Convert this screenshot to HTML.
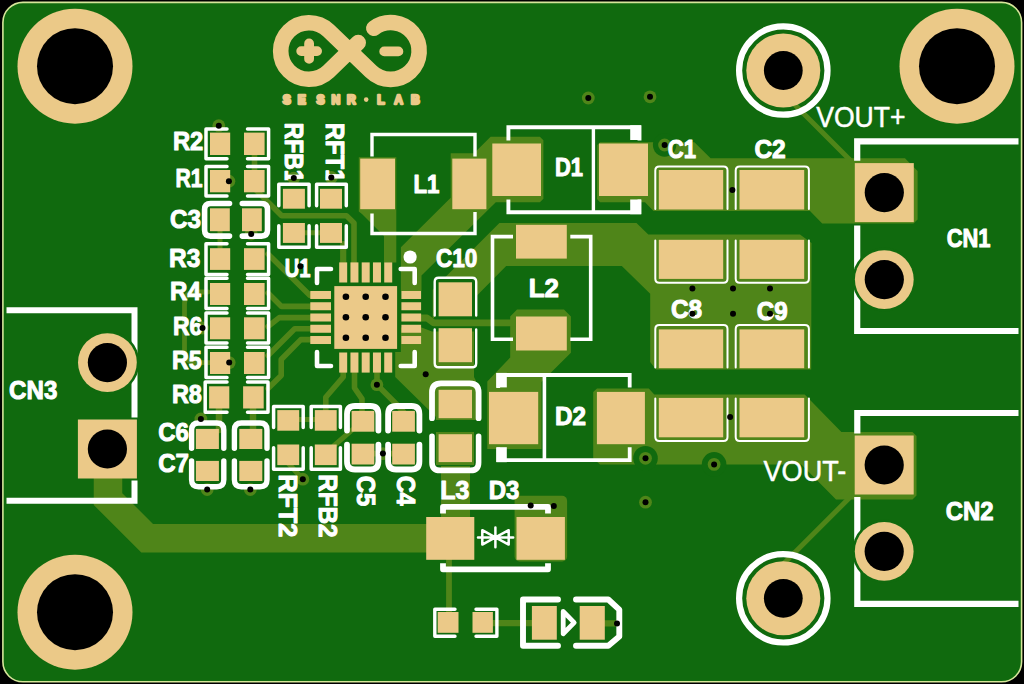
<!DOCTYPE html>
<html><head><meta charset="utf-8"><title>PCB</title>
<style>html,body{margin:0;padding:0;background:#000;overflow:hidden}svg{display:block;font-family:"Liberation Sans",sans-serif}</style>
</head><body>
<svg width="1024" height="684" viewBox="0 0 1024 684">
<rect x="0" y="0" width="1024" height="684" fill="#000"/>
<rect x="2.9" y="2.4" width="1018.7" height="679.4" rx="20" fill="#106a0e" stroke="#d6e69a" stroke-width="1.6"/>
<g id="copper">
<polygon points="450.7,153.3 474.0,153.3 490.6,136.7 539.9,136.7 543.4,140.2 543.4,198.8 539.9,202.3 495.8,202.3 421.5,275.5 421.5,291.0 400.9,291.0 400.9,247.3 450.7,197.8" fill="#4f8519"/>
<polygon points="358.8,157.2 396.3,157.2 396.3,262.5 384.0,262.5 384.0,236.0 362.0,214.0 358.8,211.5" fill="#4f8519"/>
<polygon points="597.3,145.0 600.0,142.2 694.4,142.2 710.6,158.3 905.0,158.3 917.6,171.0 917.6,219.5 913.5,223.6 822.2,223.6 810.0,211.0 653.5,211.0 645.0,202.3 600.0,202.3 597.0,199.0" fill="#4f8519"/>
<circle cx="664.60" cy="145.00" r="11.70" fill="#106a0e" />
<polygon points="499.4,222.9 636.5,222.9 648.3,234.4 800.0,234.4 811.5,243.0 811.2,369.5 656.0,369.5 650.2,362.0 650.2,293.8 621.8,266.0 506.2,266.0 477.0,295.5 477.0,318.0 432.7,318.0 432.7,289.8" fill="#4f8519"/>
<rect x="434.00" y="277.50" width="42.80" height="41.00" fill="#106a0e" />
<polygon points="510.2,316.4 517.0,309.6 564.0,309.6 570.9,316.4 570.9,352.7 541.5,382.1 541.5,449.0 487.3,449.0 487.3,381.5 510.2,357.5" fill="#4f8519"/>
<polygon points="593.2,392.0 597.0,388.4 648.8,388.4 654.3,394.6 804.7,394.6 841.4,431.9 912.5,431.9 916.5,436.0 916.5,495.5 912.5,499.5 836.0,499.5 801.4,464.6 600.0,464.6 593.2,458.5" fill="#4f8519"/>
<circle cx="645.50" cy="458.30" r="12.30" fill="#106a0e" />
<circle cx="714.10" cy="464.40" r="12.30" fill="#106a0e" />
<polygon points="400.9,327.5 421.6,327.5 432.0,331.5 474.0,331.5 474.0,377.0 476.0,381.0 476.0,420.0 436.0,420.0 436.0,417.0 395.2,376.9 395.2,352.0 400.9,352.0" fill="#4f8519"/>
<rect x="436.00" y="432.00" width="38.00" height="33.00" fill="#4f8519" />
<rect x="441.00" y="466.00" width="29.00" height="52.00" fill="#4f8519" />
<rect x="514.60" y="495.70" width="52.50" height="65.80" fill="#4f8519" rx="5" />
<path d="M108,470 V499.1 L147.2,538.3 H430" stroke="#4f8519" stroke-width="28.5" fill="none" stroke-linecap="butt" stroke-linejoin="miter" />
<path d="M449,558 V614" stroke="#4f8519" stroke-width="5.8" fill="none" stroke-linecap="round" stroke-linejoin="round" />
<path d="M491,623.2 H533" stroke="#4f8519" stroke-width="6.2" fill="none" stroke-linecap="round" stroke-linejoin="round" />
<path d="M603,623.3 H617" stroke="#4f8519" stroke-width="6.2" fill="none" stroke-linecap="round" stroke-linejoin="round" />
<path d="M783.3,70.5 V93.2 L856,165.9" stroke="#4f8519" stroke-width="5.0" fill="none" stroke-linecap="round" stroke-linejoin="round" />
<path d="M783.3,598.3 V564 L857,490.3" stroke="#4f8519" stroke-width="5.0" fill="none" stroke-linecap="round" stroke-linejoin="round" />
<path d="M419,318 H427 L433.5,322.8 H520" stroke="#4f8519" stroke-width="6.8" fill="none" stroke-linecap="round" stroke-linejoin="round" />
<path d="M256,190.1 L281.7,215.8 H346.5 L354,223 V264" stroke="#4f8519" stroke-width="5.6" fill="none" stroke-linecap="round" stroke-linejoin="round" />
<path d="M343.2,244 V264" stroke="#4f8519" stroke-width="6.2" fill="none" stroke-linecap="round" stroke-linejoin="round" />
<path d="M302,232.8 H323" stroke="#4f8519" stroke-width="5.0" fill="none" stroke-linecap="round" stroke-linejoin="round" />
<path d="M268,254 L310,295.5 H314" stroke="#4f8519" stroke-width="5.6" fill="none" stroke-linecap="round" stroke-linejoin="round" />
<path d="M268,293 L281.5,306.4 H314" stroke="#4f8519" stroke-width="5.6" fill="none" stroke-linecap="round" stroke-linejoin="round" />
<path d="M268,326.5 L279.3,317.6 H314" stroke="#4f8519" stroke-width="5.6" fill="none" stroke-linecap="round" stroke-linejoin="round" />
<path d="M314,328.8 H294.7 L268,355.5" stroke="#4f8519" stroke-width="5.6" fill="none" stroke-linecap="round" stroke-linejoin="round" />
<path d="M314,339.6 H300.8 L281.2,359.5 V375.5 L268,388.5" stroke="#4f8519" stroke-width="5.6" fill="none" stroke-linecap="round" stroke-linejoin="round" />
<path d="M343.2,370 V377 L325.8,397.3 V412" stroke="#4f8519" stroke-width="5.6" fill="none" stroke-linecap="round" stroke-linejoin="round" />
<path d="M354.5,370 V388 L362,398.8 V412" stroke="#4f8519" stroke-width="5.6" fill="none" stroke-linecap="round" stroke-linejoin="round" />
<path d="M377,370 V384.7 L395.8,403.5 L403.5,412" stroke="#4f8519" stroke-width="5.6" fill="none" stroke-linecap="round" stroke-linejoin="round" />
<path d="M208,292 H196 Q184.5,292 184.5,304 V351 Q184.5,362.6 196,362.6 H210" stroke="#4f8519" stroke-width="4.8" fill="none" stroke-linecap="round" stroke-linejoin="round" />
<path d="M219,408 V430" stroke="#4f8519" stroke-width="6.5" fill="none" stroke-linecap="round" stroke-linejoin="round" />
<path d="M253,408 V430" stroke="#4f8519" stroke-width="6.5" fill="none" stroke-linecap="round" stroke-linejoin="round" />
<path d="M254.5,154 V171" stroke="#4f8519" stroke-width="5.6" fill="none" stroke-linecap="round" stroke-linejoin="round" />
<path d="M220,231 V249" stroke="#4f8519" stroke-width="5.0" fill="none" stroke-linecap="round" stroke-linejoin="round" />
<path d="M297,419.5 H317" stroke="#4f8519" stroke-width="5.0" fill="none" stroke-linecap="round" stroke-linejoin="round" />
<path d="M333.6,446 L352.5,429.6" stroke="#4f8519" stroke-width="5.0" fill="none" stroke-linecap="round" stroke-linejoin="round" />
<path d="M288,463 L302.8,479.2" stroke="#4f8519" stroke-width="5.0" fill="none" stroke-linecap="round" stroke-linejoin="round" />
<path d="M372,453.6 H394" stroke="#4f8519" stroke-width="5.6" fill="none" stroke-linecap="round" stroke-linejoin="round" />
<circle cx="588.30" cy="98.00" r="6.40" fill="#4f8519" />
<circle cx="650.00" cy="96.80" r="6.40" fill="#4f8519" />
<circle cx="664.60" cy="145.00" r="6.40" fill="#4f8519" />
<circle cx="218.80" cy="125.70" r="6.40" fill="#4f8519" />
<circle cx="228.90" cy="181.20" r="6.40" fill="#4f8519" />
<circle cx="251.20" cy="234.00" r="6.40" fill="#4f8519" />
<circle cx="293.80" cy="178.10" r="6.40" fill="#4f8519" />
<circle cx="331.30" cy="177.50" r="6.40" fill="#4f8519" />
<circle cx="202.50" cy="328.00" r="6.40" fill="#4f8519" />
<circle cx="229.20" cy="362.60" r="6.40" fill="#4f8519" />
<circle cx="200.90" cy="419.00" r="6.40" fill="#4f8519" />
<circle cx="207.20" cy="489.50" r="6.40" fill="#4f8519" />
<circle cx="250.30" cy="489.50" r="6.40" fill="#4f8519" />
<circle cx="302.80" cy="479.20" r="6.40" fill="#4f8519" />
<circle cx="382.90" cy="453.60" r="6.40" fill="#4f8519" />
<circle cx="376.90" cy="384.70" r="6.40" fill="#4f8519" />
<circle cx="645.50" cy="458.30" r="6.40" fill="#4f8519" />
<circle cx="714.10" cy="464.40" r="6.40" fill="#4f8519" />
<circle cx="645.50" cy="502.20" r="6.40" fill="#4f8519" />
</g>
<g id="pads">
<circle cx="75.00" cy="66.20" r="57.50" fill="#ebc988" />
<circle cx="75.00" cy="66.20" r="38.00" fill="#000" />
<circle cx="957.00" cy="66.20" r="57.50" fill="#ebc988" />
<circle cx="957.00" cy="66.20" r="38.00" fill="#000" />
<circle cx="75.00" cy="612.20" r="57.50" fill="#ebc988" />
<circle cx="75.00" cy="612.20" r="38.00" fill="#000" />
<circle cx="783.30" cy="70.50" r="37.00" fill="#ebc988" />
<circle cx="783.30" cy="70.50" r="19.40" fill="#000" />
<circle cx="783.30" cy="598.30" r="37.00" fill="#ebc988" />
<circle cx="783.30" cy="598.30" r="19.40" fill="#000" />
<rect x="854.80" y="163.10" width="59.00" height="59.00" fill="#ebc988" />
<circle cx="884.30" cy="192.60" r="19.60" fill="#000" />
<circle cx="884.30" cy="279.60" r="29.40" fill="#ebc988" />
<circle cx="884.30" cy="279.60" r="19.50" fill="#000" />
<rect x="854.70" y="435.50" width="59.00" height="59.00" fill="#ebc988" />
<circle cx="884.20" cy="465.00" r="19.60" fill="#000" />
<circle cx="884.20" cy="551.40" r="29.40" fill="#ebc988" />
<circle cx="884.20" cy="551.40" r="19.50" fill="#000" />
<rect x="77.90" y="419.50" width="59.00" height="59.00" fill="#ebc988" />
<circle cx="107.40" cy="449.00" r="19.60" fill="#000" />
<circle cx="107.40" cy="362.60" r="29.40" fill="#ebc988" />
<circle cx="107.40" cy="362.60" r="19.50" fill="#000" />
<rect x="210.00" y="132.60" width="20.20" height="22.40" fill="#ebc988" />
<rect x="244.00" y="132.60" width="20.60" height="22.40" fill="#ebc988" />
<rect x="210.00" y="170.00" width="20.20" height="22.30" fill="#ebc988" />
<rect x="244.00" y="170.00" width="20.60" height="22.30" fill="#ebc988" />
<rect x="210.00" y="208.30" width="19.80" height="22.90" fill="#ebc988" />
<rect x="242.00" y="208.30" width="19.80" height="22.90" fill="#ebc988" />
<rect x="210.00" y="248.20" width="20.20" height="21.70" fill="#ebc988" />
<rect x="244.00" y="248.20" width="20.60" height="21.70" fill="#ebc988" />
<rect x="210.00" y="283.00" width="20.20" height="22.00" fill="#ebc988" />
<rect x="244.00" y="283.00" width="20.60" height="22.00" fill="#ebc988" />
<rect x="210.00" y="317.30" width="20.20" height="22.00" fill="#ebc988" />
<rect x="244.00" y="317.30" width="20.60" height="22.00" fill="#ebc988" />
<rect x="210.00" y="352.00" width="20.20" height="22.00" fill="#ebc988" />
<rect x="244.00" y="352.00" width="20.60" height="22.00" fill="#ebc988" />
<rect x="209.10" y="386.30" width="20.20" height="22.20" fill="#ebc988" />
<rect x="243.10" y="386.30" width="20.60" height="22.20" fill="#ebc988" />
<rect x="195.90" y="428.90" width="23.00" height="20.10" fill="#ebc988" />
<rect x="239.30" y="428.90" width="23.00" height="20.10" fill="#ebc988" />
<rect x="195.90" y="460.90" width="23.00" height="20.10" fill="#ebc988" />
<rect x="239.30" y="460.90" width="23.00" height="20.10" fill="#ebc988" />
<rect x="282.90" y="188.80" width="22.00" height="19.90" fill="#ebc988" />
<rect x="282.90" y="223.00" width="22.00" height="19.90" fill="#ebc988" />
<rect x="320.00" y="188.80" width="22.00" height="19.90" fill="#ebc988" />
<rect x="320.00" y="223.00" width="22.00" height="19.90" fill="#ebc988" />
<rect x="277.30" y="410.10" width="21.90" height="20.60" fill="#ebc988" />
<rect x="277.30" y="444.50" width="21.90" height="20.60" fill="#ebc988" />
<rect x="314.80" y="410.10" width="21.90" height="20.60" fill="#ebc988" />
<rect x="314.80" y="444.50" width="21.90" height="20.60" fill="#ebc988" />
<rect x="351.60" y="410.90" width="22.70" height="20.80" fill="#ebc988" />
<rect x="351.60" y="443.70" width="22.70" height="20.80" fill="#ebc988" />
<rect x="392.20" y="410.90" width="22.70" height="20.80" fill="#ebc988" />
<rect x="392.20" y="443.70" width="22.70" height="20.80" fill="#ebc988" />
<rect x="360.20" y="158.60" width="34.80" height="50.60" fill="#ebc988" />
<rect x="452.30" y="158.60" width="34.10" height="50.60" fill="#ebc988" />
<rect x="492.30" y="143.50" width="48.70" height="52.50" fill="#ebc988" />
<rect x="599.00" y="143.50" width="49.00" height="52.50" fill="#ebc988" />
<rect x="516.00" y="224.80" width="50.80" height="33.80" fill="#ebc988" />
<rect x="516.00" y="316.50" width="50.80" height="34.00" fill="#ebc988" />
<rect x="489.00" y="391.90" width="49.20" height="52.30" fill="#ebc988" />
<rect x="596.90" y="391.90" width="48.00" height="52.30" fill="#ebc988" />
<rect x="438.60" y="282.30" width="33.40" height="34.00" fill="#ebc988" />
<rect x="438.60" y="328.20" width="33.40" height="34.00" fill="#ebc988" />
<rect x="438.60" y="389.80" width="33.40" height="28.40" fill="#ebc988" />
<rect x="438.60" y="434.20" width="33.40" height="27.90" fill="#ebc988" />
<rect x="658.80" y="170.00" width="64.40" height="39.50" fill="#ebc988" />
<rect x="658.80" y="239.80" width="64.40" height="39.10" fill="#ebc988" />
<rect x="658.80" y="329.40" width="64.40" height="38.80" fill="#ebc988" />
<rect x="658.80" y="397.90" width="64.40" height="39.40" fill="#ebc988" />
<rect x="739.50" y="170.00" width="64.70" height="39.50" fill="#ebc988" />
<rect x="739.50" y="239.80" width="64.70" height="39.10" fill="#ebc988" />
<rect x="739.50" y="329.40" width="64.70" height="38.80" fill="#ebc988" />
<rect x="739.50" y="397.90" width="64.70" height="39.40" fill="#ebc988" />
<rect x="426.20" y="517.00" width="48.10" height="42.80" fill="#ebc988" />
<rect x="516.50" y="517.00" width="48.40" height="42.80" fill="#ebc988" />
<rect x="437.70" y="612.00" width="20.80" height="20.80" fill="#ebc988" />
<rect x="472.50" y="612.00" width="20.40" height="20.80" fill="#ebc988" />
<rect x="531.90" y="606.00" width="24.90" height="33.70" fill="#ebc988" />
<rect x="579.70" y="606.00" width="25.10" height="33.70" fill="#ebc988" />
<rect x="334.30" y="286.10" width="62.80" height="62.80" fill="#ebc988" />
<rect x="339.18" y="262.40" width="8.00" height="20.10" fill="#ebc988" />
<rect x="339.18" y="352.50" width="8.00" height="20.10" fill="#ebc988" />
<rect x="310.30" y="290.98" width="20.70" height="8.00" fill="#ebc988" />
<rect x="401.40" y="290.98" width="19.70" height="8.00" fill="#ebc988" />
<rect x="350.44" y="262.40" width="8.00" height="20.10" fill="#ebc988" />
<rect x="350.44" y="352.50" width="8.00" height="20.10" fill="#ebc988" />
<rect x="310.30" y="302.24" width="20.70" height="8.00" fill="#ebc988" />
<rect x="401.40" y="302.24" width="19.70" height="8.00" fill="#ebc988" />
<rect x="361.70" y="262.40" width="8.00" height="20.10" fill="#ebc988" />
<rect x="361.70" y="352.50" width="8.00" height="20.10" fill="#ebc988" />
<rect x="310.30" y="313.50" width="20.70" height="8.00" fill="#ebc988" />
<rect x="401.40" y="313.50" width="19.70" height="8.00" fill="#ebc988" />
<rect x="372.96" y="262.40" width="8.00" height="20.10" fill="#ebc988" />
<rect x="372.96" y="352.50" width="8.00" height="20.10" fill="#ebc988" />
<rect x="310.30" y="324.76" width="20.70" height="8.00" fill="#ebc988" />
<rect x="401.40" y="324.76" width="19.70" height="8.00" fill="#ebc988" />
<rect x="384.22" y="262.40" width="8.00" height="20.10" fill="#ebc988" />
<rect x="384.22" y="352.50" width="8.00" height="20.10" fill="#ebc988" />
<rect x="310.30" y="336.02" width="20.70" height="8.00" fill="#ebc988" />
<rect x="401.40" y="336.02" width="19.70" height="8.00" fill="#ebc988" />
<circle cx="345.90" cy="296.70" r="3.30" fill="#000" />
<circle cx="345.90" cy="317.20" r="3.30" fill="#000" />
<circle cx="345.90" cy="337.70" r="3.30" fill="#000" />
<circle cx="365.70" cy="296.70" r="3.30" fill="#000" />
<circle cx="365.70" cy="317.20" r="3.30" fill="#000" />
<circle cx="365.70" cy="337.70" r="3.30" fill="#000" />
<circle cx="385.50" cy="296.70" r="3.30" fill="#000" />
<circle cx="385.50" cy="317.20" r="3.30" fill="#000" />
<circle cx="385.50" cy="337.70" r="3.30" fill="#000" />
<path d="M373.8,28.2 A28.4,28.4 0 1 1 371.0,71.4 L328.6,30.6 A28.3,28.3 0 1 0 328.6,71.4 L358.2,42.6" fill="none" stroke="#ebc988" stroke-width="15.6" stroke-linecap="round" stroke-linejoin="round"/>
<path d="M301.2,51.1 H317.1 M309.1,43.4 V58.9 M384.2,51.4 H398.4" fill="none" stroke="#ebc988" stroke-width="9.8" stroke-linecap="round"/>
<circle cx="366.20" cy="99.60" r="2.30" fill="#ebc988" />
</g>
<g id="silk">
<circle cx="783.3" cy="70.5" r="44.2" fill="none" stroke="#ffffff" stroke-width="6.2"/>
<circle cx="783.3" cy="598.3" r="44.2" fill="none" stroke="#ffffff" stroke-width="6.2"/>
<path d="M1018.5,141.3 H857.2 V160.8" stroke="#ffffff" stroke-width="6.2" fill="none" stroke-linecap="butt" stroke-linejoin="miter" />
<path d="M857.2,225.5 V331.0 H1018.5" stroke="#ffffff" stroke-width="6.2" fill="none" stroke-linecap="butt" stroke-linejoin="miter" />
<path d="M1018.5,413.0 H857.3 V433.5" stroke="#ffffff" stroke-width="6.2" fill="none" stroke-linecap="butt" stroke-linejoin="miter" />
<path d="M857.3,497 V603.8 H1018.5" stroke="#ffffff" stroke-width="6.2" fill="none" stroke-linecap="butt" stroke-linejoin="miter" />
<path d="M6.5,310.3 H134.5 V417.5" stroke="#ffffff" stroke-width="6" fill="none" stroke-linecap="butt" stroke-linejoin="miter" />
<path d="M134.5,480.5 V500.7 H6.5" stroke="#ffffff" stroke-width="6" fill="none" stroke-linecap="butt" stroke-linejoin="miter" />
<circle cx="884.30" cy="279.60" r="32.00" fill="#106a0e" />
<circle cx="884.30" cy="279.60" r="29.40" fill="#ebc988" />
<circle cx="884.30" cy="279.60" r="19.60" fill="#000" />
<circle cx="884.20" cy="551.40" r="32.00" fill="#106a0e" />
<circle cx="884.20" cy="551.40" r="29.40" fill="#ebc988" />
<circle cx="884.20" cy="551.40" r="19.60" fill="#000" />
<circle cx="107.40" cy="362.60" r="32.00" fill="#106a0e" />
<circle cx="107.40" cy="362.60" r="29.40" fill="#ebc988" />
<circle cx="107.40" cy="362.60" r="19.60" fill="#000" />
<path d="M227.0,129.0 H206.0 V158.8 H227.0" stroke="#ffffff" stroke-width="3.5" fill="none" stroke-linecap="round" stroke-linejoin="round" />
<path d="M247.5,129.0 H268.6 V158.8 H247.5" stroke="#ffffff" stroke-width="3.5" fill="none" stroke-linecap="round" stroke-linejoin="round" />
<path d="M227.0,166.5 H206.0 V196.0 H227.0" stroke="#ffffff" stroke-width="3.5" fill="none" stroke-linecap="round" stroke-linejoin="round" />
<path d="M247.5,166.5 H268.6 V196.0 H247.5" stroke="#ffffff" stroke-width="3.5" fill="none" stroke-linecap="round" stroke-linejoin="round" />
<path d="M227.0,243.8 H206.0 V274.6 H227.0" stroke="#ffffff" stroke-width="3.5" fill="none" stroke-linecap="round" stroke-linejoin="round" />
<path d="M247.5,243.8 H268.6 V274.6 H247.5" stroke="#ffffff" stroke-width="3.5" fill="none" stroke-linecap="round" stroke-linejoin="round" />
<path d="M227.0,278.3 H206.0 V308.5 H227.0" stroke="#ffffff" stroke-width="3.5" fill="none" stroke-linecap="round" stroke-linejoin="round" />
<path d="M247.5,278.3 H268.6 V308.5 H247.5" stroke="#ffffff" stroke-width="3.5" fill="none" stroke-linecap="round" stroke-linejoin="round" />
<path d="M227.0,312.9 H206.0 V343.0 H227.0" stroke="#ffffff" stroke-width="3.5" fill="none" stroke-linecap="round" stroke-linejoin="round" />
<path d="M247.5,312.9 H268.6 V343.0 H247.5" stroke="#ffffff" stroke-width="3.5" fill="none" stroke-linecap="round" stroke-linejoin="round" />
<path d="M227.0,347.3 H206.0 V377.5 H227.0" stroke="#ffffff" stroke-width="3.5" fill="none" stroke-linecap="round" stroke-linejoin="round" />
<path d="M247.5,347.3 H268.6 V377.5 H247.5" stroke="#ffffff" stroke-width="3.5" fill="none" stroke-linecap="round" stroke-linejoin="round" />
<path d="M227.0,382.1 H205.2 V412.3 H227.0" stroke="#ffffff" stroke-width="3.5" fill="none" stroke-linecap="round" stroke-linejoin="round" />
<path d="M247.5,382.1 H268.0 V412.3 H247.5" stroke="#ffffff" stroke-width="3.5" fill="none" stroke-linecap="round" stroke-linejoin="round" />
<path d="M229.5,203.5 H210.6 Q204.6,203.5 204.6,209.5 V230.1 Q204.6,236.1 210.6,236.1 H229.5" stroke="#ffffff" stroke-width="5.6" fill="none" stroke-linecap="round" stroke-linejoin="round" />
<path d="M242.3,203.5 H261.5 Q267.5,203.5 267.5,209.5 V230.1 Q267.5,236.1 261.5,236.1 H242.3" stroke="#ffffff" stroke-width="5.6" fill="none" stroke-linecap="round" stroke-linejoin="round" />
<path d="M191.6,448.2 V430.0 Q191.6,423.0 198.6,423.0 H216.8 Q223.8,423.0 223.8,430.0 V448.2" stroke="#ffffff" stroke-width="5.4" fill="none" stroke-linecap="round" stroke-linejoin="round" />
<path d="M191.6,461.0 V479.8 Q191.6,486.8 198.6,486.8 H216.8 Q223.8,486.8 223.8,479.8 V461.0" stroke="#ffffff" stroke-width="5.4" fill="none" stroke-linecap="round" stroke-linejoin="round" />
<path d="M234.4,448.2 V430.0 Q234.4,423.0 241.4,423.0 H260.0 Q267.0,423.0 267.0,430.0 V448.2" stroke="#ffffff" stroke-width="5.4" fill="none" stroke-linecap="round" stroke-linejoin="round" />
<path d="M234.4,461.0 V479.8 Q234.4,486.8 241.4,486.8 H260.0 Q267.0,486.8 267.0,479.8 V461.0" stroke="#ffffff" stroke-width="5.4" fill="none" stroke-linecap="round" stroke-linejoin="round" />
<path d="M278.8,205.7 V184.3 H309.1 V205.7" stroke="#ffffff" stroke-width="3.5" fill="none" stroke-linecap="round" stroke-linejoin="round" />
<path d="M278.8,225.8 V247.2 H309.1 V225.8" stroke="#ffffff" stroke-width="3.5" fill="none" stroke-linecap="round" stroke-linejoin="round" />
<path d="M316.6,205.7 V184.3 H346.3 V205.7" stroke="#ffffff" stroke-width="3.5" fill="none" stroke-linecap="round" stroke-linejoin="round" />
<path d="M316.6,225.8 V247.2 H346.3 V225.8" stroke="#ffffff" stroke-width="3.5" fill="none" stroke-linecap="round" stroke-linejoin="round" />
<path d="M273.6,427.5 V406.4 H303.2 V427.5" stroke="#ffffff" stroke-width="3.5" fill="none" stroke-linecap="round" stroke-linejoin="round" />
<path d="M273.6,447.8 V469.2 H303.2 V447.8" stroke="#ffffff" stroke-width="3.5" fill="none" stroke-linecap="round" stroke-linejoin="round" />
<path d="M311.2,427.5 V406.4 H340.4 V427.5" stroke="#ffffff" stroke-width="3.5" fill="none" stroke-linecap="round" stroke-linejoin="round" />
<path d="M311.2,447.8 V469.2 H340.4 V447.8" stroke="#ffffff" stroke-width="3.5" fill="none" stroke-linecap="round" stroke-linejoin="round" />
<path d="M347.0,430.6 V414.0 Q347.0,406.0 355.0,406.0 H370.4 Q378.4,406.0 378.4,414.0 V430.6" stroke="#ffffff" stroke-width="5.8" fill="none" stroke-linecap="round" stroke-linejoin="round" />
<path d="M347.0,444.6 V461.5 Q347.0,469.5 355.0,469.5 H370.4 Q378.4,469.5 378.4,461.5 V444.6" stroke="#ffffff" stroke-width="5.8" fill="none" stroke-linecap="round" stroke-linejoin="round" />
<path d="M388.1,430.6 V414.0 Q388.1,406.0 396.1,406.0 H411.4 Q419.4,406.0 419.4,414.0 V430.6" stroke="#ffffff" stroke-width="5.8" fill="none" stroke-linecap="round" stroke-linejoin="round" />
<path d="M388.1,444.6 V461.5 Q388.1,469.5 396.1,469.5 H411.4 Q419.4,469.5 419.4,461.5 V444.6" stroke="#ffffff" stroke-width="5.8" fill="none" stroke-linecap="round" stroke-linejoin="round" />
<path d="M317,283 V269 H331" stroke="#ffffff" stroke-width="4.6" fill="none" stroke-linecap="round" stroke-linejoin="round" />
<path d="M400.7,269 H414.7 V283" stroke="#ffffff" stroke-width="4.6" fill="none" stroke-linecap="round" stroke-linejoin="round" />
<path d="M317,352 V366 H331" stroke="#ffffff" stroke-width="4.6" fill="none" stroke-linecap="round" stroke-linejoin="round" />
<path d="M400.7,366 H414.7 V352" stroke="#ffffff" stroke-width="4.6" fill="none" stroke-linecap="round" stroke-linejoin="round" />
<circle cx="410.10" cy="257.00" r="6.60" fill="#ffffff" />
<path d="M372,156.5 V134.5 H475 V156.5" stroke="#ffffff" stroke-width="3.4" fill="none" stroke-linecap="butt" stroke-linejoin="miter" />
<path d="M372,213.6 V233.5 H475 V212" stroke="#ffffff" stroke-width="3.4" fill="none" stroke-linecap="butt" stroke-linejoin="miter" />
<path d="M508.4,140.5 V127.2 H639.5 V140.5" stroke="#ffffff" stroke-width="3.9" fill="none" stroke-linecap="butt" stroke-linejoin="miter" />
<path d="M508.4,199.5 V212.3 H639.5 V199.5" stroke="#ffffff" stroke-width="3.9" fill="none" stroke-linecap="butt" stroke-linejoin="miter" />
<path d="M593.4,127.2 V212.3" stroke="#ffffff" stroke-width="3.4" fill="none" stroke-linecap="butt" stroke-linejoin="miter" />
<rect x="630.20" y="125.30" width="10.80" height="14.70" fill="#ffffff" />
<rect x="630.20" y="199.50" width="10.80" height="14.70" fill="#ffffff" />
<path d="M513,236.6 H492.5 V339.2 H513" stroke="#ffffff" stroke-width="3.6" fill="none" stroke-linecap="butt" stroke-linejoin="miter" />
<path d="M570.3,236.6 H590.7 V339.2 H570.3" stroke="#ffffff" stroke-width="3.6" fill="none" stroke-linecap="butt" stroke-linejoin="miter" />
<path d="M498.2,388 V375 H629.7 V387.4" stroke="#ffffff" stroke-width="3.8" fill="none" stroke-linecap="butt" stroke-linejoin="miter" />
<path d="M498.2,447.5 V460.1 H629.7 V447.2" stroke="#ffffff" stroke-width="3.8" fill="none" stroke-linecap="butt" stroke-linejoin="miter" />
<path d="M544.4,375 V460.1" stroke="#ffffff" stroke-width="3.6" fill="none" stroke-linecap="butt" stroke-linejoin="miter" />
<rect x="496.40" y="372.90" width="10.40" height="14.50" fill="#ffffff" />
<rect x="496.40" y="447.20" width="10.40" height="15.00" fill="#ffffff" />
<path d="M434.7,315.5 V281.8 Q434.7,277.8 438.7,277.8 H472.2 Q476.2,277.8 476.2,281.8 V315.5" stroke="#ffffff" stroke-width="2.4" fill="none" stroke-linecap="round" stroke-linejoin="round" />
<path d="M434.7,329.5 V363.3 Q434.7,367.3 438.7,367.3 H472.2 Q476.2,367.3 476.2,363.3 V329.5" stroke="#ffffff" stroke-width="2.4" fill="none" stroke-linecap="round" stroke-linejoin="round" />
<path d="M432.0,418.2 V392.3 Q432.0,383.3 441.0,383.3 H469.6 Q478.6,383.3 478.6,392.3 V418.2" stroke="#ffffff" stroke-width="5.8" fill="none" stroke-linecap="round" stroke-linejoin="round" />
<path d="M432.0,436.2 V462.4 Q432.0,470.4 440.0,470.4 H470.6 Q478.6,470.4 478.6,462.4 V436.2" stroke="#ffffff" stroke-width="5.6" fill="none" stroke-linecap="round" stroke-linejoin="round" />
<path d="M655.3,209.0 V170.6 Q655.3,166.6 659.3,166.6 H723.5 Q727.5,166.6 727.5,170.6 V209.0" stroke="#ffffff" stroke-width="2.0" fill="none" stroke-linecap="round" stroke-linejoin="round" />
<path d="M655.3,240.5 V278.8 Q655.3,282.8 659.3,282.8 H723.5 Q727.5,282.8 727.5,278.8 V240.5" stroke="#ffffff" stroke-width="2.0" fill="none" stroke-linecap="round" stroke-linejoin="round" />
<path d="M655.3,367.5 V328.9 Q655.3,324.9 659.3,324.9 H723.5 Q727.5,324.9 727.5,328.9 V367.5" stroke="#ffffff" stroke-width="2.0" fill="none" stroke-linecap="round" stroke-linejoin="round" />
<path d="M655.3,398.5 V437.0 Q655.3,441.0 659.3,441.0 H723.5 Q727.5,441.0 727.5,437.0 V398.5" stroke="#ffffff" stroke-width="2.0" fill="none" stroke-linecap="round" stroke-linejoin="round" />
<path d="M735.7,209.0 V170.6 Q735.7,166.6 739.7,166.6 H804.9 Q808.9,166.6 808.9,170.6 V209.0" stroke="#ffffff" stroke-width="2.0" fill="none" stroke-linecap="round" stroke-linejoin="round" />
<path d="M735.7,240.5 V278.8 Q735.7,282.8 739.7,282.8 H804.9 Q808.9,282.8 808.9,278.8 V240.5" stroke="#ffffff" stroke-width="2.0" fill="none" stroke-linecap="round" stroke-linejoin="round" />
<path d="M735.7,367.5 V328.9 Q735.7,324.9 739.7,324.9 H804.9 Q808.9,324.9 808.9,328.9 V367.5" stroke="#ffffff" stroke-width="2.0" fill="none" stroke-linecap="round" stroke-linejoin="round" />
<path d="M735.7,398.5 V437.0 Q735.7,441.0 739.7,441.0 H804.9 Q808.9,441.0 808.9,437.0 V398.5" stroke="#ffffff" stroke-width="2.0" fill="none" stroke-linecap="round" stroke-linejoin="round" />
<path d="M443,513.5 V506.8 H548 V513.5" stroke="#ffffff" stroke-width="5.8" fill="none" stroke-linecap="butt" stroke-linejoin="round" />
<path d="M443,563.3 V569.3 H548 V563.3" stroke="#ffffff" stroke-width="5.8" fill="none" stroke-linecap="butt" stroke-linejoin="round" />
<path d="M478,537.4 H513.2 M495.4,527.6 V547.2 M482.3,530.2 V544.6 L495.4,537.4 Z M508.7,530.2 V544.6 L495.4,537.4 Z" stroke="#ffffff" stroke-width="2.5" fill="none" stroke-linecap="round" stroke-linejoin="round" />
<path d="M455,609.2 H434.8 V636.2 H455" stroke="#ffffff" stroke-width="3.4" fill="none" stroke-linecap="round" stroke-linejoin="round" />
<path d="M476,609.2 H496.9 V636.2 H476" stroke="#ffffff" stroke-width="3.4" fill="none" stroke-linecap="round" stroke-linejoin="round" />
<path d="M558,599.5 H523 V645.7 H558" stroke="#ffffff" stroke-width="5.9" fill="none" stroke-linecap="round" stroke-linejoin="round" />
<path d="M576,599.5 H608.3 L619.3,609.6 V636.4 L608.3,645.7 H576" stroke="#ffffff" stroke-width="5.9" fill="none" stroke-linecap="round" stroke-linejoin="round" />
<path d="M563.2,611.4 L574.2,622.6 L563.2,633.8 Z" stroke="#ffffff" stroke-width="4.8" fill="none" stroke-linecap="round" stroke-linejoin="round" />
<g font-family="'Liberation Sans',sans-serif" font-weight="bold" font-size="25.4" fill="#ffffff" stroke="#ffffff" stroke-width="1" stroke-linejoin="round">
<text x="172.9" y="150.08" textLength="30.3" lengthAdjust="spacingAndGlyphs">R2</text>
<text x="175.4" y="187.48" textLength="27" lengthAdjust="spacingAndGlyphs">R1</text>
<text x="170" y="227.78" textLength="30.9" lengthAdjust="spacingAndGlyphs">C3</text>
<text x="169.1" y="266.88" textLength="31.2" lengthAdjust="spacingAndGlyphs">R3</text>
<text x="170.1" y="300.48" textLength="30.7" lengthAdjust="spacingAndGlyphs">R4</text>
<text x="172.9" y="334.78" textLength="29.4" lengthAdjust="spacingAndGlyphs">R6</text>
<text x="171.9" y="369.48" textLength="29.7" lengthAdjust="spacingAndGlyphs">R5</text>
<text x="171.9" y="403.48" textLength="30" lengthAdjust="spacingAndGlyphs">R8</text>
<text x="158.2" y="440.88" textLength="30.6" lengthAdjust="spacingAndGlyphs">C6</text>
<text x="158.2" y="471.78" textLength="30.8" lengthAdjust="spacingAndGlyphs">C7</text>
<text x="284.7" y="276.88" textLength="25.8" lengthAdjust="spacingAndGlyphs">U1</text>
<text x="435.9" y="267.08" textLength="41.4" lengthAdjust="spacingAndGlyphs">C10</text>
<text x="413.5" y="193.38" textLength="26" lengthAdjust="spacingAndGlyphs">L1</text>
<text x="554.9" y="176.08" textLength="28" lengthAdjust="spacingAndGlyphs">D1</text>
<text x="528.8" y="297.28" textLength="30.1" lengthAdjust="spacingAndGlyphs">L2</text>
<text x="554.9" y="424.68" textLength="31" lengthAdjust="spacingAndGlyphs">D2</text>
<text x="667.8" y="158.48" textLength="28.2" lengthAdjust="spacingAndGlyphs">C1</text>
<text x="754.4" y="158.48" textLength="31.4" lengthAdjust="spacingAndGlyphs">C2</text>
<text x="670.9" y="317.58" textLength="31.2" lengthAdjust="spacingAndGlyphs">C8</text>
<text x="756.7" y="319.98" textLength="30.9" lengthAdjust="spacingAndGlyphs">C9</text>
<text x="946.7" y="247.48" textLength="43.8" lengthAdjust="spacingAndGlyphs">CN1</text>
<text x="945.7" y="519.68" textLength="47.8" lengthAdjust="spacingAndGlyphs">CN2</text>
<text x="9.1" y="399.28" textLength="48.2" lengthAdjust="spacingAndGlyphs">CN3</text>
<text x="440.2" y="499.48" textLength="29.1" lengthAdjust="spacingAndGlyphs">L3</text>
<text x="488.8" y="499.48" textLength="30.6" lengthAdjust="spacingAndGlyphs">D3</text>
</g>
<g font-family="'Liberation Sans',sans-serif" font-size="28.6" fill="#ffffff" stroke="#ffffff" stroke-width="0.5" stroke-linejoin="round">
<text x="816.2" y="126.68" textLength="89.3" lengthAdjust="spacingAndGlyphs">VOUT+</text>
<text x="763.6" y="480.88" textLength="82.6" lengthAdjust="spacingAndGlyphs">VOUT-</text>
</g>
<clipPath id="c1"><rect x="270" y="110" width="90" height="70.3"/></clipPath>
<g clip-path="url(#c1)" font-family="'Liberation Sans',sans-serif" font-weight="bold" font-size="25.4" fill="#ffffff" stroke="#ffffff" stroke-width="1" stroke-linejoin="round">
<text transform="translate(284.80,0) rotate(90)" x="122.64" y="0" textLength="59.9" lengthAdjust="spacingAndGlyphs">RFB1</text>
<text transform="translate(325.70,0) rotate(90)" x="122.64" y="0" textLength="59.9" lengthAdjust="spacingAndGlyphs">RFT1</text>
</g>
<g font-family="'Liberation Sans',sans-serif" font-weight="bold" font-size="25.4" fill="#ffffff" stroke="#ffffff" stroke-width="1" stroke-linejoin="round">
<text transform="translate(278.90,0) rotate(90)" x="474.14" y="0" textLength="63.3" lengthAdjust="spacingAndGlyphs">RFT2</text>
<text transform="translate(318.70,0) rotate(90)" x="474.14" y="0" textLength="63.3" lengthAdjust="spacingAndGlyphs">RFB2</text>
<text transform="translate(356.60,0) rotate(90)" x="475.67" y="0" textLength="30.5" lengthAdjust="spacingAndGlyphs">C5</text>
<text transform="translate(397.00,0) rotate(90)" x="475.67" y="0" textLength="30" lengthAdjust="spacingAndGlyphs">C4</text>
</g>
<g font-family="'Liberation Sans',sans-serif" font-weight="bold" font-size="12" fill="#ebc988" stroke="#ebc988" stroke-width="2.3" stroke-linejoin="round">
<text x="282.7 297.8 316.5 331.45 347.11" y="103.7">SESNR</text>
<text x="377.33 394.19 411.05" y="103.7">LAB</text>
</g>
</g>
<g id="vias">
<circle cx="588.30" cy="98.00" r="3.00" fill="#000" />
<circle cx="650.00" cy="96.80" r="3.00" fill="#000" />
<circle cx="664.60" cy="145.00" r="3.00" fill="#000" />
<circle cx="218.80" cy="125.70" r="3.00" fill="#000" />
<circle cx="228.90" cy="181.20" r="3.00" fill="#000" />
<circle cx="251.20" cy="234.00" r="3.00" fill="#000" />
<circle cx="293.80" cy="178.10" r="3.00" fill="#000" />
<circle cx="331.30" cy="177.50" r="3.00" fill="#000" />
<circle cx="202.50" cy="328.00" r="3.00" fill="#000" />
<circle cx="229.20" cy="362.60" r="3.00" fill="#000" />
<circle cx="200.90" cy="419.00" r="3.00" fill="#000" />
<circle cx="207.20" cy="489.50" r="3.00" fill="#000" />
<circle cx="250.30" cy="489.50" r="3.00" fill="#000" />
<circle cx="302.80" cy="479.20" r="3.00" fill="#000" />
<circle cx="382.90" cy="453.60" r="3.00" fill="#000" />
<circle cx="376.90" cy="384.70" r="3.00" fill="#000" />
<circle cx="645.50" cy="458.30" r="3.00" fill="#000" />
<circle cx="714.10" cy="464.40" r="3.00" fill="#000" />
<circle cx="645.50" cy="502.20" r="3.00" fill="#000" />
<circle cx="300.40" cy="266.30" r="3.00" fill="#000" />
<circle cx="425.70" cy="374.30" r="3.00" fill="#000" />
<circle cx="732.40" cy="189.90" r="3.00" fill="#000" />
<circle cx="692.40" cy="288.50" r="3.00" fill="#000" />
<circle cx="733.00" cy="288.50" r="3.00" fill="#000" />
<circle cx="770.00" cy="288.50" r="3.00" fill="#000" />
<circle cx="692.40" cy="313.70" r="3.00" fill="#000" />
<circle cx="733.00" cy="313.70" r="3.00" fill="#000" />
<circle cx="770.00" cy="313.70" r="3.00" fill="#000" />
<circle cx="730.10" cy="417.00" r="3.00" fill="#000" />
<circle cx="530.70" cy="505.50" r="3.00" fill="#000" />
<circle cx="553.80" cy="506.00" r="3.00" fill="#000" />
<circle cx="617.00" cy="623.40" r="3.00" fill="#000" />
</g>
</svg></body></html>
